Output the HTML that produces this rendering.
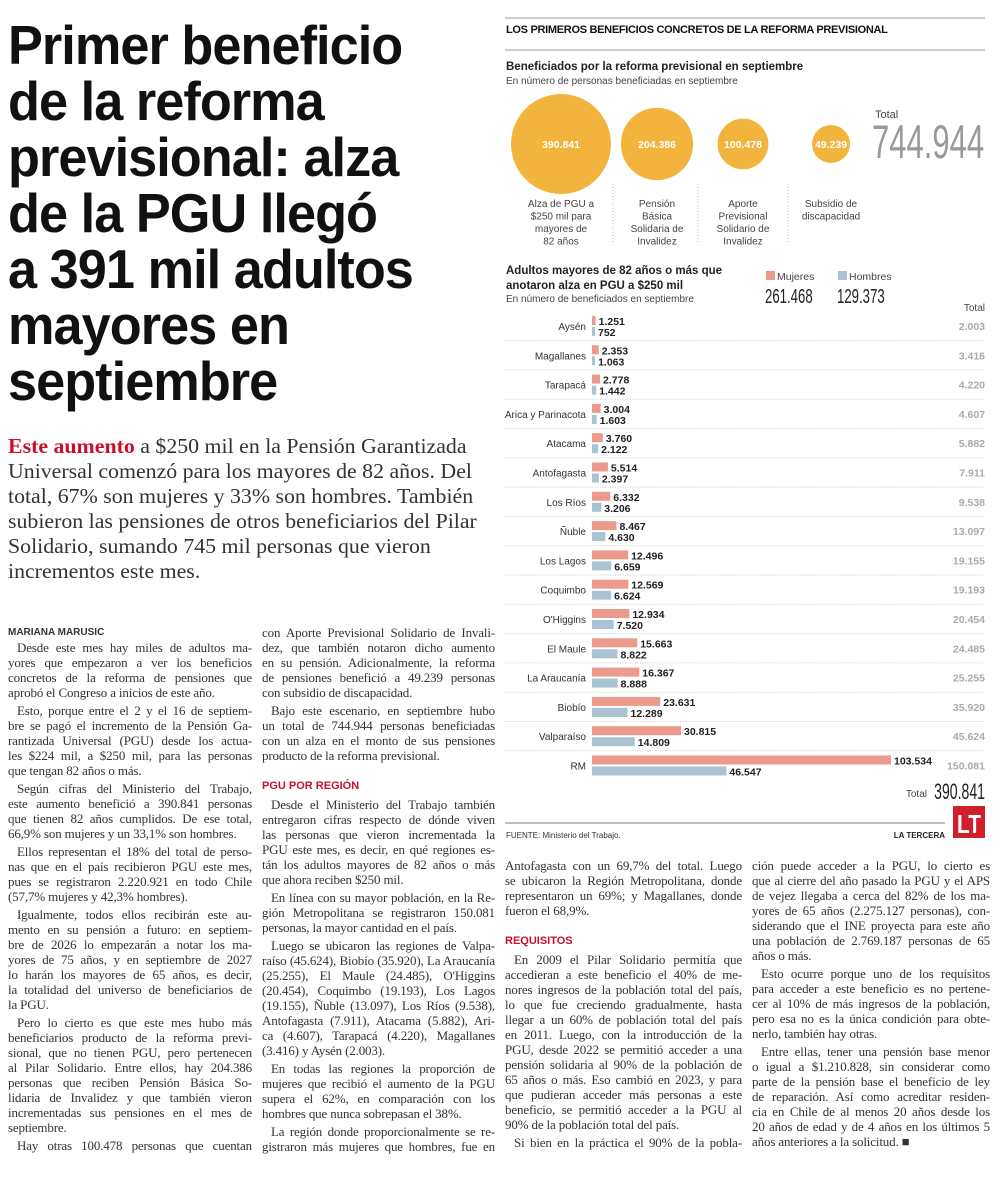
<!DOCTYPE html>
<html><head><meta charset="utf-8">
<style>
*{margin:0;padding:0;box-sizing:border-box}
body{width:1000px;height:1179px;background:#fff;position:relative;overflow:hidden;font-family:"Liberation Serif",serif;color:#222}
.abs{position:absolute}
.title div{position:absolute;left:8px;font-family:"Liberation Sans",sans-serif;font-weight:bold;font-size:55px;line-height:56px;height:56px;letter-spacing:-1px;transform:scaleX(0.95);transform-origin:left center;white-space:nowrap;color:#111}
.deck{position:absolute;left:8px;top:434px;font-size:21px;line-height:25px;white-space:nowrap;color:#333;transform:scaleX(1.04);transform-origin:left top}
.col{position:absolute;font-size:13px;letter-spacing:-0.15px;color:#333}
.col div{height:15px;line-height:15px;text-align:justify;text-align-last:justify;overflow:hidden}
.col div.e{text-align-last:left}
.col div.p{text-indent:9px;margin-top:3px}
.col div.h{font-family:"Liberation Sans",sans-serif;font-weight:bold;font-size:11px;color:#c8102e;text-align-last:left;margin-top:16px;letter-spacing:0}
.sans{font-family:"Liberation Sans",sans-serif}
</style></head><body>

<div class="title">
<div style="top:17px">Primer beneficio</div>
<div style="top:73px">de la reforma</div>
<div style="top:129px">previsional: alza</div>
<div style="top:185px">de la PGU llegó</div>
<div style="top:241px">a 391 mil adultos</div>
<div style="top:297px">mayores en</div>
<div style="top:353px">septiembre</div>
</div>

<div class="deck">
<div><b style="color:#c8102e">Este aumento</b> a $250 mil en la Pensión Garantizada</div>
<div>Universal comenzó para los mayores de 82 años. Del</div>
<div>total, 67% son mujeres y 33% son hombres. También</div>
<div>subieron las pensiones de otros beneficiarios del Pilar</div>
<div>Solidario, sumando 745 mil personas que vieron</div>
<div>incrementos este mes.</div>
</div>

<div class="abs sans" style="left:8px;top:627px;font-size:10px;font-weight:bold;color:#333">MARIANA MARUSIC</div>

<div class="col" style="left:8px;top:637px;width:244px">
<div class="p">Desde este mes hay miles de adultos ma-</div>
<div>yores que empezaron a ver los beneficios</div>
<div>concretos de la reforma de pensiones que</div>
<div class="e">aprobó el Congreso a inicios de este año.</div>
<div class="p">Esto, porque entre el 2 y el 16 de septiem-</div>
<div>bre se pagó el incremento de la Pensión Ga-</div>
<div>rantizada Universal (PGU) desde los actua-</div>
<div>les $224 mil, a $250 mil, para las personas</div>
<div class="e">que tengan 82 años o más.</div>
<div class="p">Según cifras del Ministerio del Trabajo,</div>
<div>este aumento benefició a 390.841 personas</div>
<div>que tienen 82 años cumplidos. De ese total,</div>
<div class="e">66,9% son mujeres y un 33,1% son hombres.</div>
<div class="p">Ellos representan el 18% del total de perso-</div>
<div>nas que en el país recibieron PGU este mes,</div>
<div>pues se registraron 2.220.921 en todo Chile</div>
<div class="e">(57,7% mujeres y 42,3% hombres).</div>
<div class="p">Igualmente, todos ellos recibirán este au-</div>
<div>mento en su pensión a futuro: en septiem-</div>
<div>bre de 2026 lo empezarán a notar los ma-</div>
<div>yores de 75 años, y en septiembre de 2027</div>
<div>lo harán los mayores de 65 años, es decir,</div>
<div>la totalidad del universo de beneficiarios de</div>
<div class="e">la PGU.</div>
<div class="p">Pero lo cierto es que este mes hubo más</div>
<div>beneficiarios producto de la reforma previ-</div>
<div>sional, que no tienen PGU, pero pertenecen</div>
<div>al Pilar Solidario. Entre ellos, hay 204.386</div>
<div>personas que reciben Pensión Básica So-</div>
<div>lidaria de Invalidez y que también vieron</div>
<div>incrementadas sus pensiones en el mes de</div>
<div class="e">septiembre.</div>
<div class="p">Hay otras 100.478 personas que cuentan</div>
</div>

<div class="col" style="left:262px;top:624.5px;width:233px">
<div>con Aporte Previsional Solidario de Invali-</div>
<div>dez, que también notaron dicho aumento</div>
<div>en su pensión. Adicionalmente, la reforma</div>
<div>de pensiones benefició a 49.239 personas</div>
<div class="e">con subsidio de discapacidad.</div>
<div class="p">Bajo este escenario, en septiembre hubo</div>
<div>un total de 744.944 personas beneficiadas</div>
<div>con un alza en el monto de sus pensiones</div>
<div class="e">producto de la reforma previsional.</div>
<div class="h">PGU POR REGIÓN</div>
<div class="p">Desde el Ministerio del Trabajo también</div>
<div>entregaron cifras respecto de dónde viven</div>
<div>las personas que vieron incrementada la</div>
<div>PGU este mes, es decir, en qué regiones es-</div>
<div>tán los adultos mayores de 82 años o más</div>
<div class="e">que ahora reciben $250 mil.</div>
<div class="p">En línea con su mayor población, en la Re-</div>
<div>gión Metropolitana se registraron 150.081</div>
<div class="e">personas, la mayor cantidad en el país.</div>
<div class="p">Luego se ubicaron las regiones de Valpa-</div>
<div>raíso (45.624), Biobío (35.920), La Araucanía</div>
<div>(25.255), El Maule (24.485), O'Higgins</div>
<div>(20.454), Coquimbo (19.193), Los Lagos</div>
<div>(19.155), Ñuble (13.097), Los Ríos (9.538),</div>
<div>Antofagasta (7.911), Atacama (5.882), Ari-</div>
<div>ca (4.607), Tarapacá (4.220), Magallanes</div>
<div class="e">(3.416) y Aysén (2.003).</div>
<div class="p">En todas las regiones la proporción de</div>
<div>mujeres que recibió el aumento de la PGU</div>
<div>supera el 62%, en comparación con los</div>
<div class="e">hombres que nunca sobrepasan el 38%.</div>
<div class="p">La región donde proporcionalmente se re-</div>
<div>gistraron más mujeres que hombres, fue en</div>
</div>

<div class="col" style="left:505px;top:857.5px;width:237px">
<div>Antofagasta con un 69,7% del total. Luego</div>
<div>se ubicaron la Región Metropolitana, donde</div>
<div>representaron un 69%; y Magallanes, donde</div>
<div class="e">fueron el 68,9%.</div>
<div class="h">REQUISITOS</div>
<div class="p">En 2009 el Pilar Solidario permitía que</div>
<div>accedieran a este beneficio el 40% de me-</div>
<div>nores ingresos de la población total del país,</div>
<div>lo que fue creciendo gradualmente, hasta</div>
<div>llegar a un 60% de población total del país</div>
<div>en 2011. Luego, con la introducción de la</div>
<div>PGU, desde 2022 se permitió acceder a una</div>
<div>pensión solidaria al 90% de la población de</div>
<div>65 años o más. Eso cambió en 2023, y para</div>
<div>que pudieran acceder más personas a este</div>
<div>beneficio, se permitió acceder a la PGU al</div>
<div class="e">90% de la población total del país.</div>
<div class="p">Si bien en la práctica el 90% de la pobla-</div>
</div>

<div class="col" style="left:752px;top:857.5px;width:238px">
<div>ción puede acceder a la PGU, lo cierto es</div>
<div>que al cierre del año pasado la PGU y el APS</div>
<div>de vejez llegaba a cerca del 82% de los ma-</div>
<div>yores de 65 años (2.275.127 personas), con-</div>
<div>siderando que el INE proyecta para este año</div>
<div>una población de 2.769.187 personas de 65</div>
<div class="e">años o más.</div>
<div class="p">Esto ocurre porque uno de los requisitos</div>
<div>para acceder a este beneficio es no pertene-</div>
<div>cer al 10% de más ingresos de la población,</div>
<div>pero esa no es la única condición para obte-</div>
<div class="e">nerlo, también hay otras.</div>
<div class="p">Entre ellas, tener una pensión base menor</div>
<div>o igual a $1.210.828, sin considerar como</div>
<div>parte de la pensión base el beneficio de ley</div>
<div>de reparación. Así como acreditar residen-</div>
<div>cia en Chile de al menos 20 años desde los</div>
<div>20 años de edad y de 4 años en los últimos 5</div>
<div class="e">años anteriores a la solicitud. ■</div>
</div>

<svg id="chart" class="abs" style="left:0;top:0" width="1000" height="860" font-family="Liberation Sans, sans-serif">
<line x1="505" y1="18" x2="985" y2="18" stroke="#999" stroke-width="1"/>
<text x="506" y="33" font-size="11" font-weight="bold" fill="#111" letter-spacing="-0.3">LOS PRIMEROS BENEFICIOS CONCRETOS DE LA REFORMA PREVISIONAL</text>
<line x1="505" y1="50" x2="985" y2="50" stroke="#999" stroke-width="1"/>
<text x="506" y="70" font-size="11.5" font-weight="bold" fill="#222">Beneficiados por la reforma previsional en septiembre</text>
<text x="506" y="84" font-size="10" fill="#444">En número de personas beneficiadas en septiembre</text>
<g id="bubbles"></g>
<text x="875" y="118" font-size="11" fill="#444">Total</text>
<text x="872" y="158" font-size="47" fill="#999" transform="translate(872,0) scale(0.66,1) translate(-872,0)">744.944</text>

<text x="506" y="274" font-size="11.5" font-weight="bold" fill="#222">Adultos mayores de 82 años o más que</text>
<text x="506" y="289" font-size="11.5" font-weight="bold" fill="#222">anotaron alza en PGU a $250 mil</text>
<text x="506" y="302" font-size="10" fill="#444">En número de beneficiados en septiembre</text>
<rect x="766" y="271" width="9" height="9" fill="#ec9a8c"/>
<text x="777" y="280" font-size="10.5" fill="#444">Mujeres</text>
<text x="765" y="303" font-size="20" fill="#222" transform="translate(765,0) scale(0.66,1) translate(-765,0)">261.468</text>
<rect x="838" y="271" width="9" height="9" fill="#a9c3d3"/>
<text x="849" y="280" font-size="10.5" fill="#444">Hombres</text>
<text x="837" y="303" font-size="20" fill="#222" transform="translate(837,0) scale(0.66,1) translate(-837,0)">129.373</text>
<text x="985" y="311" font-size="10" fill="#444" text-anchor="end">Total</text>
<g id="bars"></g>
<text x="927" y="797" font-size="10" fill="#444" text-anchor="end">Total</text>
<text x="985" y="799" font-size="22" fill="#222" text-anchor="end" transform="translate(985,0) scale(0.64,1) translate(-985,0)">390.841</text>
<line x1="505" y1="823" x2="945" y2="823" stroke="#aaa" stroke-width="1.5"/>
<text x="506" y="838" font-size="8" fill="#333">FUENTE: Ministerio del Trabajo.</text>
<text x="945" y="838" font-size="8" font-weight="bold" fill="#222" text-anchor="end">LA TERCERA</text>
<rect x="953" y="806" width="32" height="32" fill="#d0202e"/>
<text x="969" y="833" font-size="26" font-weight="bold" fill="#fff" text-anchor="middle" transform="translate(969,0) scale(0.8,1) translate(-969,0)">LT</text>
</svg>

<script>
// bubble chart data
const bubbleValues = [390841, 204386, 100478, 49239];
const bubbleLabels = ["390.841", "204.386", "100.478", "49.239"];
const bubbleCaptions = [
  ["Alza de PGU a", "$250 mil para", "mayores de", "82 años"],
  ["Pensión", "Básica", "Solidaria de", "Invalidez"],
  ["Aporte", "Previsional", "Solidario de", "Invalidez"],
  ["Subsidio de", "discapacidad"]
];
// bar chart data
const regions = ["Aysén","Magallanes","Tarapacá","Arica y Parinacota","Atacama","Antofagasta","Los Ríos","Ñuble","Los Lagos","Coquimbo","O'Higgins","El Maule","La Araucanía","Biobío","Valparaíso","RM"];
const mujeres = [1251,2353,2778,3004,3760,5514,6332,8467,12496,12569,12934,15663,16367,23631,30815,103534];
const hombres = [752,1063,1442,1603,2122,2397,3206,4630,6659,6624,7520,8822,8888,12289,14809,46547];
const totals = [2003,3416,4220,4607,5882,7911,9538,13097,19155,19193,20454,24485,25255,35920,45624,150081];

const NS = "http://www.w3.org/2000/svg";
function mk(tag, attrs, parent){
  const e = document.createElementNS(NS, tag);
  for (const k in attrs) e.setAttribute(k, attrs[k]);
  parent.appendChild(e); return e;
}
function fmt(v){ return String(v).replace(/\B(?=(\d{3})+(?!\d))/g, "."); }

// bubbles
const bg = document.getElementById("bubbles");
const bx = [561, 657, 743, 831];
const rScale = v => 50 * Math.sqrt(v / 390841);
bubbleValues.forEach((v, i) => {
  const c = mk("circle", {cx: bx[i], cy: 144, r: Math.max(rScale(v), 19), fill: "#f2b43c"}, bg);
  
  
  const t = mk("text", {x: bx[i], y: 148, "font-size": 10.5, "font-weight": "bold", fill: "#fff", "text-anchor": "middle"}, bg);
  t.textContent = bubbleLabels[i];
  
  
  bubbleCaptions[i].forEach((line, j) => {
    const ct = mk("text", {x: bx[i], y: 207 + j * 12.5, "font-size": 10, fill: "#444", "text-anchor": "middle"}, bg);
    ct.textContent = line;
    
    
  });
});
[613, 698, 788].forEach(x => {
  const l = mk("line", {x1: x, y1: 184, x2: x, y2: 244, stroke: "#bbb", "stroke-dasharray": "1,2"}, bg);
  
  
});

// bars
const g = document.getElementById("bars");
const X0 = 592, maxV = 103534, maxW = 299;
const xs = v => v / maxV * maxW;
const rowY = i => 326 + i * 29.3;
regions.forEach((name, i) => {
  const cy = rowY(i);
  const lab = mk("text", {x: 586, y: cy + 4, "font-size": 10, fill: "#333", "text-anchor": "end"}, g);
  lab.textContent = name;
  
  
  const bm = mk("rect", {x: X0, y: cy - 10, width: Math.max(xs(mujeres[i]), 3), height: 9, fill: "#ec9a8c"}, g);
  
  
  const bh = mk("rect", {x: X0, y: cy + 1, width: Math.max(xs(hombres[i]), 3), height: 9, fill: "#a9c3d3"}, g);
  
  
  const tm = mk("text", {x: X0 + Math.max(xs(mujeres[i]), 3) + 3, y: cy - 1, "font-size": 10.5, "font-weight": "bold", fill: "#222"}, g);
  tm.textContent = fmt(mujeres[i]);
  
  
  const th = mk("text", {x: X0 + Math.max(xs(hombres[i]), 3) + 3, y: cy + 10, "font-size": 10.5, "font-weight": "bold", fill: "#222"}, g);
  th.textContent = fmt(hombres[i]);
  
  
  const tt = mk("text", {x: 985, y: cy + 4, "font-size": 10.5, "font-weight": "bold", fill: "#aaa", "text-anchor": "end"}, g);
  tt.textContent = fmt(totals[i]);
  
  
  if (i < regions.length - 1) {
    const sep = mk("line", {x1: 505, y1: cy + 14.6, x2: 985, y2: cy + 14.6, stroke: "#ccc", "stroke-dasharray": "1,1.5"}, g);
    
    
  }
});
</script>
</body></html>
